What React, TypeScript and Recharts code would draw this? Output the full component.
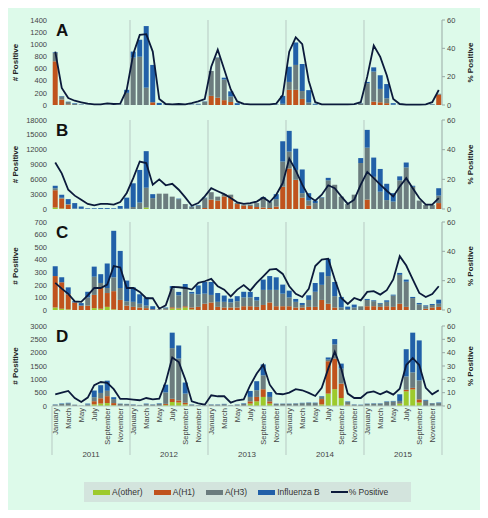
import React from "react";
import { Bar, CartesianGrid, ComposedChart, Line, XAxis, YAxis } from "recharts";

const YEARS = ["2011", "2012", "2013", "2014", "2015"];
const MONTHS = [
  "January", "February", "March", "April", "May", "June",
  "July", "August", "September", "October", "November", "December",
];
const MONTH_KEYS = YEARS.flatMap((y) => MONTHS.map((m) => `${m} ${y}`));

// Panel A
const A_OTHER = [
  0, 0, 0, 0, 0, 0, 0, 0, 0, 0, 0, 0,
  0, 0, 0, 0, 0, 0, 0, 0, 0, 0, 0, 0,
  0, 0, 0, 0, 0, 0, 0, 0, 0, 0, 0, 0,
  0, 0, 0, 0, 0, 0, 0, 0, 0, 0, 0, 0,
  0, 0, 0, 0, 0, 0, 0, 0, 0, 0, 0, 0,
];
const A_H1 = [
  720, 90, 10, 0, 0, 0, 0, 0, 0, 0, 0, 0,
  0, 0, 0, 45, 0, 0, 0, 0, 0, 0, 0, 0,
  150, 120, 80, 50, 0, 0, 0, 0, 0, 0, 0, 0,
  250, 250, 100, 0, 0, 0, 0, 0, 0, 0, 0, 0,
  0, 55, 45, 30, 0, 0, 0, 0, 0, 0, 0, 170,
];
const A_H3 = [
  140, 50, 40, 20, 5, 3, 2, 2, 3, 2, 3, 200,
  780, 795, 285, 0, 0, 3, 2, 2, 3, 5, 10, 55,
  410, 660, 340, 90, 0, 3, 2, 2, 2, 2, 3, 20,
  130, 410, 130, 40, 5, 3, 2, 2, 2, 3, 5, 25,
  360, 495, 220, 80, 5, 3, 2, 2, 2, 3, 10, 15,
];
const A_B = [
  10, 10, 5, 10, 5, 2, 2, 2, 2, 2, 2, 50,
  100, 280, 1015, 615, 35, 7, 3, 3, 2, 5, 10, 5,
  0, 5, 30, 85, 30, 3, 2, 2, 2, 2, 5, 130,
  250, 370, 445, 205, 15, 3, 2, 2, 2, 2, 3, 5,
  20, 70, 225, 235, 25, 3, 2, 2, 2, 2, 5, 0,
];
const A_PCT = [
  37.7, 12, 4.9, 3, 1.9, 0.9, 0.5, 0.5, 1.2, 0.7, 0.9, 10.8,
  36, 49.5, 50, 37.7, 4.2, 0.7, 0.5, 0.7, 0.5, 1.4, 2.6, 4.2,
  27, 39, 25, 11, 2.5, 0.8, 0.4, 0.4, 0.4, 0.4, 1, 7,
  37.6, 47.7, 43, 17, 2, 0.5, 0.4, 0.4, 0.4, 0.4, 0.6, 2,
  20, 42, 34, 21, 4.2, 0.7, 0.3, 0.3, 0.3, 0.5, 2, 10.6,
];

// Panel B
const B_OTHER = [
  300, 100, 0, 0, 0, 0, 0, 0, 0, 0, 0, 0,
  0, 0, 300, 0, 0, 0, 0, 0, 0, 0, 0, 0,
  0, 0, 0, 0, 0, 0, 0, 0, 0, 0, 0, 0,
  0, 0, 0, 0, 0, 0, 0, 0, 0, 0, 0, 0,
  0, 0, 0, 0, 0, 0, 0, 0, 0, 0, 0, 0,
];
const B_H1 = [
  3500, 2000, 900, 0, 0, 0, 0, 0, 0, 0, 0, 0,
  0, 0, 0, 0, 0, 0, 0, 0, 0, 0, 0, 200,
  1900, 1700, 2550, 2350, 1000, 700, 600, 400, 300, 200, 500, 4500,
  8200, 5900, 2300, 700, 0, 0, 0, 0, 0, 0, 0, 0,
  1900, 0, 0, 0, 0, 0, 0, 0, 0, 0, 0, 1200,
];
const B_H3 = [
  400, 200, 100, 100, 40, 20, 20, 30, 30, 20, 50, 100,
  400, 1300, 4000, 2200, 3100, 3100, 2500, 2000, 1000, 400, 700, 2000,
  1500, 800, 450, 550, 200, 170, 300, 800, 1800, 1200, 1500, 5100,
  3400, 2000, 900, 1000, 1200, 2300, 5800, 4900, 2500, 1000, 2900, 9300,
  10500, 6500, 3500, 1800, 1500, 5800, 8400, 4500, 1700, 800, 800, 1500,
];
const B_B = [
  500, 600, 1000, 1100, 460, 130, 130, 170, 170, 130, 550, 2200,
  4800, 6600, 7400, 800, 0, 0, 0, 100, 0, 100, 100, 100,
  0, 0, 0, 0, 0, 0, 0, 0, 300, 100, 1000, 4100,
  4200, 4300, 4800, 1500, 500, 100, 500, 0, 0, 0, 0, 1000,
  3600, 3900, 4600, 3300, 1700, 800, 1000, 200, 0, 0, 0, 1500,
];
const B_PCT = [
  31.4, 24, 13, 9, 6.3, 3.4, 2.5, 3.4, 3.4, 2.9, 4.7, 10.8,
  20.8, 32, 31, 16.4, 20, 16, 17, 13, 7.8, 2.2, 4, 8.5,
  14, 12, 10, 7.4, 4.5, 3.4, 4, 5, 7.8, 4.7, 9.6, 17.5,
  34, 26, 16.4, 8.5, 5.6, 9.6, 16, 14, 8.5, 3.4, 6.3, 16.4,
  25, 20.8, 16.4, 12.3, 8.5, 15.2, 20.8, 14, 7.4, 2.9, 2.9, 7.4,
];

// Panel C
const C_OTHER = [
  20, 10, 5, 0, 0, 0, 15, 10, 25, 5, 0, 0,
  0, 0, 0, 0, 0, 0, 12, 12, 20, 5, 0, 0,
  0, 0, 0, 0, 0, 0, 0, 0, 0, 0, 0, 0,
  0, 0, 0, 0, 0, 0, 0, 0, 0, 0, 0, 0,
  0, 0, 0, 0, 0, 0, 0, 0, 0, 0, 0, 0,
];
const C_H1 = [
  250, 210, 120, 60, 35, 35, 105, 165, 110, 145, 80, 35,
  25, 20, 15, 5, 2, 3, 10, 5, 10, 15, 25, 50,
  60, 25, 20, 20, 20, 30, 30, 25, 40, 60, 30, 30,
  30, 20, 20, 25, 25, 80, 50, 20, 0, 0, 0, 0,
  30, 30, 25, 30, 25, 50, 25, 0, 0, 10, 20, 25,
];
const C_H3 = [
  0, 0, 0, 0, 0, 65, 145, 40, 40, 110, 95, 34,
  40, 30, 20, 0, 2, 12, 150, 100, 145, 110, 100, 80,
  60, 40, 45, 40, 50, 70, 70, 50, 120, 100, 130, 100,
  70, 45, 20, 55, 120, 120, 220, 90, 20, 7, 20, 29,
  50, 40, 25, 35, 90, 230, 200, 95, 45, 20, 20, 25,
];
const C_B = [
  78, 40, 55, 10, 20, 45, 80, 70, 195, 370, 295, 165,
  115, 75, 65, 25, 1, 5, 18, 27, 32, 14, 70, 93,
  103, 70, 50, 30, 40, 45, 44, 29, 82, 110, 100, 72,
  54, 23, 16, 37, 70, 100, 137, 113, 84, 20, 23, 0,
  8, 7, 6, 12, 7, 15, 17, 9, 11, 7, 8, 32,
];
const C_PCT = [
  18.5, 14.6, 11, 5.9, 5.5, 10, 15, 15, 17.3, 30, 29, 15,
  15, 12.3, 8, 8, 0.9, 3.2, 15.7, 15.5, 15, 13.9, 18.5, 19.6,
  21.2, 16.2, 13.9, 9.3, 13.9, 17, 13.2, 18.5, 23, 27.6, 28, 24.6,
  16.2, 11, 8.9, 14.4, 30, 34.4, 35, 21, 8.2, 4.1, 8.2, 6.6,
  12.3, 12.8, 10.5, 13.5, 20.8, 36.7, 30.3, 20.8, 11.6, 8.9, 10.9, 16.2,
];

// Panel D
const D_OTHER = [
  0, 0, 0, 0, 0, 0, 60, 90, 110, 30, 0, 0,
  0, 0, 0, 0, 0, 40, 150, 130, 60, 0, 0, 0,
  0, 0, 0, 0, 0, 0, 90, 175, 340, 90, 0, 0,
  0, 0, 0, 0, 0, 60, 465, 630, 300, 20, 0, 0,
  0, 0, 0, 0, 0, 80, 550, 620, 130, 0, 0, 0,
];
const D_H1 = [
  0, 0, 0, 0, 0, 0, 120, 200, 260, 80, 0, 0,
  0, 0, 0, 0, 0, 40, 120, 80, 60, 0, 0, 0,
  0, 0, 0, 0, 0, 0, 85, 165, 290, 85, 0, 0,
  0, 0, 0, 0, 0, 200, 1215, 1150, 540, 30, 0, 0,
  0, 0, 0, 0, 0, 20, 60, 60, 120, 0, 0, 0,
];
const D_H3 = [
  50, 75, 100, 45, 12, 60, 150, 200, 200, 150, 80, 70,
  50, 30, 70, 50, 80, 430, 1900, 1570, 345, 50, 25, 15,
  50, 50, 65, 25, 50, 80, 165, 250, 520, 165, 80, 80,
  80, 90, 105, 115, 110, 80, 60, 530, 560, 100, 50, 40,
  80, 85, 85, 150, 170, 90, 500, 580, 710, 200, 100, 110,
];
const D_B = [
  10, 15, 20, 5, 3, 30, 250, 290, 380, 70, 10, 10,
  10, 10, 20, 10, 20, 290, 580, 490, 415, 10, 5, 5,
  10, 10, 15, 5, 10, 20, 225, 340, 410, 185, 10, 10,
  10, 10, 15, 15, 15, 25, 80, 200, 190, 20, 10, 10,
  10, 15, 15, 20, 20, 250, 1020, 1490, 1500, 30, 10, 20,
];
const D_PCT = [
  8.8, 10, 11.3, 6, 3, 6.3, 15.6, 18, 17.3, 12.6, 5.3, 5.3,
  4.8, 4.3, 6, 5, 5.5, 18, 36.4, 33, 20, 3.5, 2, 1,
  8, 7.3, 7.3, 2.5, 4.3, 5, 15.6, 24.4, 31, 16, 9.3, 8.8,
  10, 12.6, 11.8, 9.8, 7.5, 13.6, 28, 40.7, 28, 9.3, 6, 6,
  10, 11, 8.8, 11, 8.5, 13, 30.7, 36, 30.7, 13.6, 8.8, 11.8,
];

const A_TICKS = [0, 200, 400, 600, 800, 1000, 1200, 1400];
const B_TICKS = [0, 3000, 6000, 9000, 12000, 15000, 18000];
const C_TICKS = [0, 100, 200, 300, 400, 500, 600, 700];
const D_TICKS = [0, 500, 1000, 1500, 2000, 2500, 3000];
const PCT_TICKS = [0, 20, 40, 60];
const PCT_TICKS_D = [0, 10, 20, 30, 40, 50, 60];

const SERIES = [
  { key: "other", name: "A(other)", color: "#9dca2c" },
  { key: "h1", name: "A(H1)", color: "#c0531d" },
  { key: "h3", name: "A(H3)", color: "#6b7c7e" },
  { key: "b", name: "Influenza B", color: "#2160a8" },
];
const LINE_COLOR = "#0b1a3b";
const BG = "#ddfaea";
const GRID = "#b7c9c3";
const FONT = "'Liberation Sans', Arial, sans-serif";

const rows = (other: number[], h1: number[], h3: number[], b: number[], pct: number[]) =>
  MONTH_KEYS.map((key, i) => ({ key, other: other[i], h1: h1[i], h3: h3[i], b: b[i], pct: pct[i] }));

const PANELS = [
  { letter: "A", top: 20, plotH: 85, data: rows(A_OTHER, A_H1, A_H3, A_B, A_PCT), ticks: A_TICKS, pctTicks: PCT_TICKS },
  { letter: "B", top: 120, plotH: 89, data: rows(B_OTHER, B_H1, B_H3, B_B, B_PCT), ticks: B_TICKS, pctTicks: PCT_TICKS },
  { letter: "C", top: 222, plotH: 88, data: rows(C_OTHER, C_H1, C_H3, C_B, C_PCT), ticks: C_TICKS, pctTicks: PCT_TICKS },
  { letter: "D", top: 326, plotH: 80, data: rows(D_OTHER, D_H1, D_H3, D_B, D_PCT), ticks: D_TICKS, pctTicks: PCT_TICKS_D },
];

const tickStyle = { fontSize: 7.5, fill: "#444", fontFamily: FONT };

const MonthTick = (props: any) => {
  const { x, y, index, payload } = props;
  const half = payload.offset || 0;
  const name = String(payload.value).split(" ")[0];
  const year = String(payload.value).split(" ")[1];
  const monthIdx = index % 12;
  return (
    <g>
      {monthIdx === 0 && (
        <line x1={x - half} x2={x - half} y1={y - 2} y2={y + 47} stroke={GRID} strokeWidth={1} />
      )}
      {index === MONTH_KEYS.length - 1 && (
        <line x1={x + half} x2={x + half} y1={y - 2} y2={y + 47} stroke={GRID} strokeWidth={1} />
      )}
      {monthIdx % 2 === 0 && (
        <text
          x={x}
          y={y}
          transform={`rotate(-90, ${x}, ${y})`}
          textAnchor="end"
          dominantBaseline="central"
          style={tickStyle}
        >
          {name}
        </text>
      )}
      {monthIdx === 5 && (
        <text x={x + half} y={y + 49} textAnchor="middle" style={{ ...tickStyle, fontSize: 8 }}>
          {year}
        </text>
      )}
    </g>
  );
};

const Panel = ({ p, last }: { p: (typeof PANELS)[number]; last: boolean }) => {
  const mt = 6;
  const mb = last ? 2 : 6;
  const xh = last ? 50 : 0;
  const labelStyle = { fontSize: 8, fontWeight: 700, fill: "#222", fontFamily: FONT, textAnchor: "middle" as const };
  return (
    <div style={{ position: "absolute", left: 0, top: p.top - mt }}>
      <ComposedChart
        width={488}
        height={p.plotH + mt + mb + xh}
        data={p.data}
        margin={{ top: mt, right: 0, bottom: mb, left: 0 }}
        barCategoryGap="11%"
      >
        <CartesianGrid
          yAxisId="n"
          horizontal={false}
          stroke={GRID}
          verticalCoordinatesGenerator={({ offset }: any) =>
            YEARS.slice(1).map((_, k) => offset.left + (offset.width * (k + 1)) / YEARS.length)
          }
        />
        <XAxis
          dataKey="key"
          hide={!last}
          height={xh}
          interval={0}
          tickLine={false}
          tickSize={0}
          tickMargin={2}
          axisLine={{ stroke: GRID }}
          tick={<MonthTick />}
        />
        <YAxis
          yAxisId="n"
          orientation="left"
          width={52}
          domain={[0, p.ticks[p.ticks.length - 1]]}
          ticks={p.ticks}
          interval={0}
          tickLine={false}
          axisLine={false}
          tickSize={3}
          tickMargin={2}
          tick={tickStyle}
          label={{ value: "# Positive", angle: -90, position: "insideLeft", offset: 15, style: labelStyle }}
        />
        <YAxis
          yAxisId="p"
          orientation="right"
          width={46}
          domain={[0, 60]}
          ticks={p.pctTicks}
          interval={0}
          tickLine={{ stroke: "#9aa9a5" }}
          axisLine={{ stroke: "#9aa9a5" }}
          tickSize={3}
          tickMargin={2}
          tick={tickStyle}
          label={{ value: "% Positive", angle: -90, position: "insideRight", offset: 18, style: labelStyle }}
        />
        {SERIES.map((s) => (
          <Bar key={s.key} yAxisId="n" dataKey={s.key} name={s.name} stackId="s" fill={s.color} isAnimationActive={false} />
        ))}
        <Line
          yAxisId="p"
          type="linear"
          dataKey="pct"
          name="% Positive"
          stroke={LINE_COLOR}
          strokeWidth={1.8}
          dot={false}
          isAnimationActive={false}
        />
      </ComposedChart>
      <div
        style={{
          position: "absolute",
          left: 56,
          top: mt + 1,
          fontFamily: FONT,
          fontWeight: 700,
          fontSize: 17,
          color: "#111",
        }}
      >
        {p.letter}
      </div>
    </div>
  );
};

export default function App() {
  return (
    <div style={{ position: "relative", width: 488, height: 518, margin: -8, background: BG, overflow: "hidden" }}>
      {PANELS.map((p, i) => (
        <Panel key={p.letter} p={p} last={i === PANELS.length - 1} />
      ))}
      <div
        style={{
          position: "absolute",
          left: 84,
          top: 482,
          width: 327,
          height: 20,
          background: "#d3e4dd",
          display: "flex",
          alignItems: "center",
          fontFamily: FONT,
          fontSize: 8.5,
          color: "#333",
          paddingLeft: 9,
          boxSizing: "border-box",
        }}
      >
        {SERIES.map((s) => (
          <span key={s.key} style={{ display: "flex", alignItems: "center", marginRight: 11 }}>
            <span style={{ width: 17, height: 5, background: s.color, marginRight: 2, display: "inline-block" }} />
            {s.name}
          </span>
        ))}
        <span style={{ display: "flex", alignItems: "center" }}>
          <span style={{ width: 17, height: 2, background: LINE_COLOR, marginRight: 1, display: "inline-block" }} />
          % Positive
        </span>
      </div>
    </div>
  );
}
